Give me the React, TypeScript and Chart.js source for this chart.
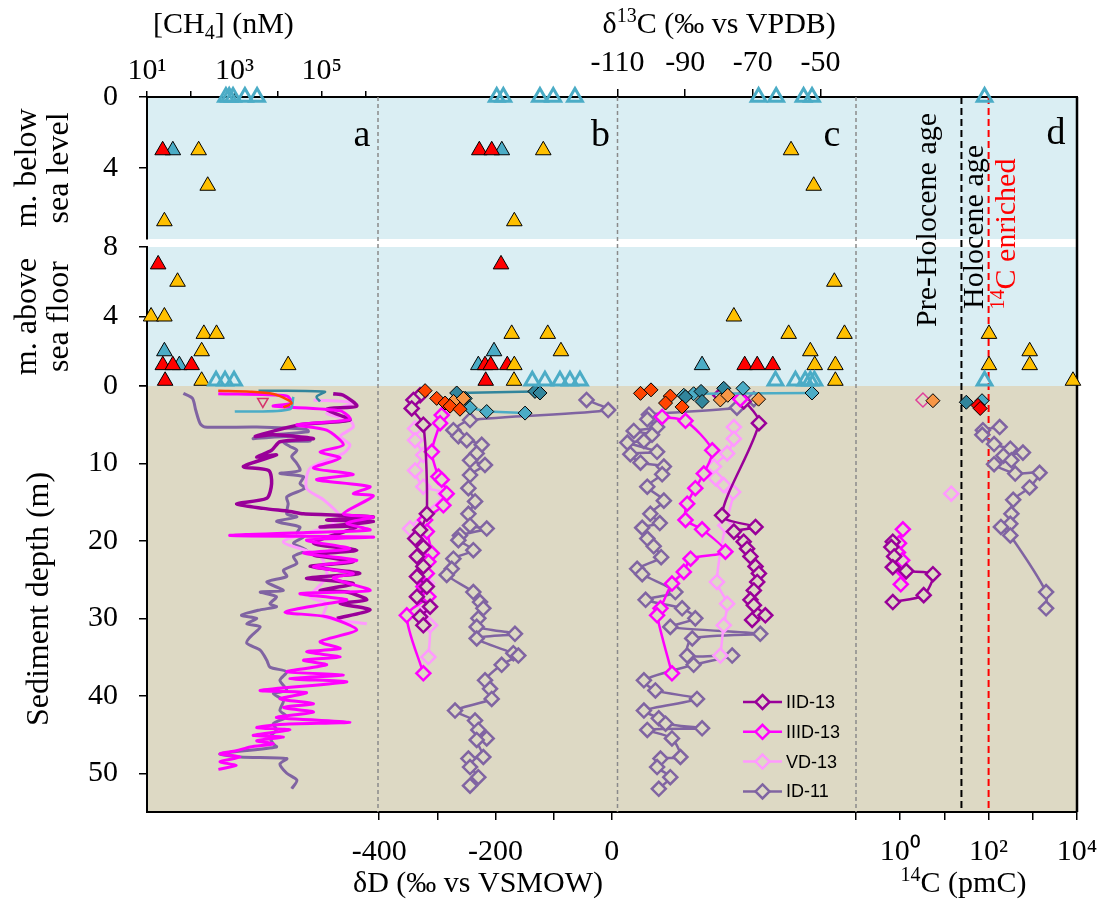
import React, { useEffect, useRef } from 'react';
import { Chart, registerables } from 'chart.js';

Chart.register(...registerables);

type Pair = [number, number];
const pts = (a: Pair[]) => a.map(([x, y]) => ({ x, y }));

// ---------------- colours ----------------
const COL_IID = '#990099';
const COL_IIID = '#FF00FF';
const COL_VD = '#FF99FF';
const COL_ID = '#8064A2';
const COL_RED = '#FF0000';
const COL_YELLOW = '#FFC000';
const COL_CYAN = '#4BACC6';
const COL_TEAL = '#31859C';
const COL_ORANGERED = '#FF4500';
const COL_ORANGE = '#F79646';
const COL_PINKRED = '#E0409A';
const BG_WATER = '#DAEEF3';
const BG_SED = '#DDD9C4';

// ---------------- axes ----------------
const CH4_MIN = 10, CH4_MAX = 1.93e6;
const DD_MIN = -402, DD_MAX = 10;
const D13C_MIN = -110, D13C_MAX = -39.5;
const C14_MIN = 0.1, C14_MAX = 1e4;
const BSL_MAX = 8, ASF_MAX = 8, SED_MAX = 55;

const CH4_TICKS = [10, 100, 1e3, 1e4, 1e5, 1e6];
const CH4_TICK_LABELS = ['10¹', '', '10³', '', '10⁵', ''];
const DD_TICKS = [-400, -300, -200, -100, 0];
const DD_TICK_LABELS = ['-400', '', '-200', '', '0'];
const D13C_TICKS = [-110, -90, -70, -50];
const D13C_TICK_LABELS = ['-110', '-90', '-70', '-50'];
const C14_TICKS = [0.1, 1, 10, 100, 1000, 10000];
const C14_TICK_LABELS = ['', '10⁰', '', '10²', '', '10⁴'];
const BSL_TICKS = [0, 4];
const BSL_TICK_LABELS = ['0', '4'];
const ASF_TICKS = [0, 4, 8];
const ASF_TICK_LABELS = ['0', '4', '8'];
const SED_TICKS = [0, 10, 20, 30, 40, 50];
const SED_TICK_LABELS = ['', '10', '20', '30', '40', '50'];

// reference lines in panel d (pmC)
const HOLOCENE_LIMIT = 24.3;
const ENRICHED_LIMIT = 100;

// ---------------- panel a : [CH4] (nM) ----------------
const aBslRed: Pair[] = [[22.8, 3]];
const aBslCyan: Pair[] = [[39, 3]];
const aBslYellow: Pair[] = [[152, 3], [245, 5], [25, 7]];
const aBslOpen: Pair[] = [[640, 0], [760, 0], [930, 0], [1740, 0], [3300, 0]];
const aAsfRed: Pair[] = [[18, 7], [23, 1.2], [39, 1.2], [105, 1.2], [26, 0.3]];
const aAsfYellow: Pair[] = [[50, 6], [12.4, 4], [25, 4], [200, 3], [390, 3], [178, 2], [17000, 1.2], [178, 0.3]];
const aAsfCyan: Pair[] = [[25, 2], [55, 1.2]];
const aAsfOpen: Pair[] = [[380, 0.3], [610, 0.3], [980, 0.3]];
const aSedOrangeRed: Pair[] = [[427, 0.6], [2290, 0.73], [7760, 1.03], [15800, 1.72], [20400, 2.24], [13200, 2.76]];
const aSedTeal: Pair[] = [[3550, 0.6], [117000, 0.73], [76000, 1.38], [91000, 2.0]];
const aSedCyan: Pair[] = [[1020, 3.3], [18600, 3.0], [22400, 1.4]];
const aSedPinkTri: Pair[] = [[4470, 2.0]];
const aIID: Pair[] = [[182000, 1.0], [310000, 1.2], [631000, 2.6], [129000, 3.0], [440000, 4.4], [31600, 5.0], [3000, 6.5], [7760, 6.3], [64600, 6.8], [11000, 7.2], [7100, 8.3], [3240, 9.2], [9200, 8.9], [1600, 10.4], [6100, 10.9], [7100, 12.6], [5500, 14.5], [1120, 15.2], [4600, 15.8], [18600, 16.2], [38000, 16.5], [1510000, 16.9], [129000, 17.3], [1510000, 17.5], [91200, 18.2], [631000, 18.2], [64600, 20.3], [631000, 21.2], [64600, 21.8], [525000, 22.7], [54000, 23.3], [741000, 24.2], [44700, 24.8], [525000, 25.5], [91200, 26.4], [372000, 26.6], [1070000, 27.6], [263000, 28.1], [1270000, 28.9], [220000, 30.0]];
const aIIID: Pair[] = [[427, 1.0], [15800, 1.3], [20400, 2.2], [7760, 2.6], [263000, 3.2], [440000, 4.3], [26900, 5.0], [129000, 5.7], [310000, 7.6], [91200, 8.5], [263000, 9.3], [64600, 10.6], [525000, 11.4], [76000, 12.1], [1270000, 13.0], [525000, 13.9], [1510000, 14.2], [310000, 16.5], [1510000, 16.9], [372000, 17.7], [1270000, 18.6], [44700, 18.9], [794, 19.3], [1510000, 19.5], [44700, 19.9], [440000, 21.0], [38000, 21.6], [631000, 22.5], [64600, 23.3], [525000, 24.2], [182000, 24.8], [1270000, 26.4], [31600, 26.8], [372000, 27.6], [129000, 28.1], [14300, 29.2], [129000, 29.8], [631000, 31.5], [91200, 33.0], [263000, 33.9], [44700, 34.3], [263000, 35.0], [38000, 35.4], [129000, 36.0], [15800, 36.9], [310000, 37.3], [18600, 37.8], [372000, 38.2], [3890, 39.3], [44700, 39.6], [11000, 40.4], [64600, 41.0], [13200, 41.5], [64600, 42.1], [9200, 42.8], [440000, 43.4], [11000, 43.7], [3240, 44.1], [18600, 44.4], [2690, 45.1], [13200, 45.3], [3240, 45.8], [7760, 46.2], [2300, 46.6], [1100, 47.1], [468, 47.5], [1350, 47.9], [468, 48.5], [1100, 49.0], [430, 49.5]];
const aVD: Pair[] = [[64600, 1.8], [525000, 2.2], [129000, 3.5], [440000, 4.4], [525000, 5.3], [263000, 6.5], [440000, 7.6], [310000, 8.7], [54000, 10.6], [44700, 13.2], [110000, 14.7], [263000, 16.9], [129000, 18.2], [13200, 20.1], [91200, 22.0], [129000, 24.6], [54000, 27.2], [129000, 28.1], [110000, 29.8], [1070000, 30.7]];
const aID: Pair[] = [[68, 0.95], [110, 1.6], [130, 3.1], [163, 4.8], [210, 5.3], [3240, 5.3], [44700, 5.6], [49000, 5.9], [7760, 6.3], [2690, 6.8], [22400, 6.5], [54000, 7.1], [13200, 7.2], [18600, 7.8], [26900, 8.3], [20500, 9.1], [26900, 10.0], [31600, 10.9], [11000, 11.3], [38000, 11.7], [31600, 12.6], [41000, 13.2], [15800, 14.3], [17000, 15.2], [15800, 16.5], [26900, 16.9], [9200, 17.5], [31600, 18.2], [26900, 19.0], [38000, 19.5], [22400, 20.3], [44700, 21.2], [22400, 22.0], [26900, 22.9], [13200, 23.8], [15800, 24.6], [5500, 25.3], [13200, 26.4], [3890, 26.6], [9200, 27.2], [6500, 28.1], [9200, 28.5], [3890, 28.9], [1450, 29.6], [3240, 30.0], [1910, 30.7], [3890, 31.1], [2300, 32.4], [1910, 33.2], [3890, 34.1], [5500, 35.4], [6500, 36.3], [15800, 36.9], [11000, 38.0], [15800, 39.3], [7760, 39.7], [13200, 40.6], [11000, 41.9], [15800, 42.7], [7760, 43.6], [9200, 44.4], [6500, 45.3], [7760, 46.2], [9200, 46.6], [468, 47.5], [1350, 47.9], [15800, 48.1], [11000, 48.8], [15800, 50.0], [26900, 50.9], [20500, 52.0]];

// ---------------- panel b : dD (permil vs VSMOW) ----------------
const bBslRed: Pair[] = [[-227.7, 3], [-206.4, 3]];
const bBslCyan: Pair[] = [[-189, 3]];
const bBslYellow: Pair[] = [[-117.7, 3], [-167.5, 7]];
const bBslOpen: Pair[] = [[-197.8, 0], [-186.4, 0], [-123.4, 0], [-100.5, 0], [-63.2, 0]];
const bAsfRed: Pair[] = [[-190.4, 7], [-217.9, 1.2], [-208, 1.2], [-179.6, 1.2], [-216.7, 0.3]];
const bAsfYellow: Pair[] = [[-172, 3], [-110, 3], [-87.3, 2], [-167.5, 1.2], [-168, 0.3]];
const bAsfCyan: Pair[] = [[-202.4, 2], [-229.4, 1.2]];
const bAsfOpen: Pair[] = [[-136.6, 0.3], [-114.8, 0.3], [-89, 0.3], [-71.8, 0.3], [-54.6, 0.3]];
const bSedOrangeRed: Pair[] = [[-321, 0.6], [-301, 1.6], [-286.6, 2.2], [-278, 2.6], [-261, 3.0]];
const bSedOrange: Pair[] = [[-272, 2.0], [-255, 1.6]];
const bSedTealLine: Pair[] = [[-266.6, 0.9], [-132, 0.7], [-123.4, 0.9]];
const bSedTeal: Pair[] = [[-252, 1.6]];
const bSedCyanLine: Pair[] = [[-243.7, 2.8], [-215, 3.3], [-149, 3.5]];
const bIID: Pair[] = [[-329.6, 1.2], [-341, 1.8], [-344, 2.9], [-324, 5.0], [-318, 16.5], [-329.6, 18.6], [-338, 19.7], [-324, 20.8], [-335, 22.0], [-324, 23.3], [-335, 24.6], [-318, 25.9], [-335, 27.2], [-312.4, 28.5], [-329.6, 29.8], [-324, 30.9]];
const bIIID: Pair[] = [[-292.4, 3.75], [-295.2, 4.8], [-309.5, 8.5], [-298, 11.7], [-292.4, 12.1], [-283.8, 13.9], [-289.5, 15.4], [-321, 17.3], [-318, 18.8], [-309.5, 21.6], [-315.3, 22.7], [-318, 24.2], [-324, 25.9], [-315.3, 27.2], [-352.5, 29.6], [-324, 37.1]];
const bVD: Pair[] = [[-338.2, 5.5], [-338.2, 7.0], [-324, 8.9], [-338.2, 10.9], [-324, 13.0], [-286.6, 13.9], [-346.8, 18.4], [-329.6, 20.3], [-318, 25.5], [-324, 28.1], [-312.4, 30.9], [-315.3, 35.0]];
const bID: Pair[] = [[-43.2, 1.8], [-6, 3.1], [-243.7, 4.4], [-272.3, 5.7], [-263.7, 6.5], [-249.4, 7.0], [-223.6, 7.6], [-232.2, 8.7], [-243.7, 9.6], [-218, 10.2], [-243.7, 11.5], [-246.5, 13.2], [-235, 14.9], [-246.5, 16.5], [-243.7, 18.0], [-215, 18.4], [-261, 19.3], [-263.7, 19.9], [-238, 21.2], [-272.3, 22.3], [-275.2, 23.6], [-283.8, 24.4], [-238, 26.6], [-226.5, 27.9], [-220.8, 28.7], [-229.4, 30.0], [-232.2, 31.1], [-166.4, 32.0], [-232.2, 32.6], [-169.2, 34.5], [-160.6, 34.8], [-189.3, 36.0], [-217.9, 38.0], [-209.3, 39.1], [-206.4, 40.4], [-269.5, 41.9], [-235.1, 43.2], [-229.4, 44.4], [-215, 45.5], [-232.2, 45.7], [-220.8, 47.9], [-246.5, 48.1], [-243.7, 49.2], [-229.4, 50.5], [-243.7, 51.6]];

// ---------------- panel c : d13C (permil vs VPDB) ----------------
const cBslYellow: Pair[] = [[-58.7, 3], [-52, 5]];
const cBslOpen: Pair[] = [[-68.3, 0], [-63.1, 0], [-55, 0], [-52.5, 0]];
const cAsfYellow: Pair[] = [[-45.9, 6], [-75.6, 4], [-59.4, 3], [-42.9, 3], [-53, 2], [-51.7, 1.2], [-45.6, 1.2], [-45.6, 0.3]];
const cAsfCyan: Pair[] = [[-85, 1.2]];
const cAsfRed: Pair[] = [[-72.4, 1.2], [-68.7, 1.2], [-64.1, 1.2]];
const cAsfOpen: Pair[] = [[-63.3, 0.3], [-57.4, 0.3], [-54.5, 0.3], [-53, 0.3], [-51.8, 0.3]];
const cSedOrangeRed: Pair[] = [[-103.2, 0.95], [-100.1, 0.5], [-94.4, 1.3], [-95.8, 2.2], [-90.9, 2.7]];
const cSedTeal: Pair[] = [[-89.9, 1.4], [-85.3, 0.7], [-85.0, 2.0], [-78.6, 0.3]];
const cSedCyanLine: Pair[] = [[-87.5, 1.0], [-52.5, 0.9]];
const cSedCyan: Pair[] = [[-90.4, 1.2], [-72.9, 0.3]];
const cSedOrange: Pair[] = [[-79.6, 1.8], [-77.4, 1.2], [-68.3, 1.7]];
const cIIDTop: Pair[] = [[-73.7, 1.7]];
const cIID: Pair[] = [[-79.6, 1.2], [-72.7, 2.0], [-68.2, 4.8], [-79.1, 16.7], [-69.2, 18.2], [-75.6, 18.8], [-72.7, 20.1], [-71.7, 21.0], [-70.7, 22.0], [-69.2, 23.3], [-68.2, 24.2], [-68.7, 25.3], [-69.7, 26.4], [-70.7, 27.6], [-69.7, 28.3], [-66.3, 29.6], [-70.2, 30.2]];
const cIIID: Pair[] = [[-96.8, 4.0], [-89.9, 4.5], [-82.0, 8.3], [-84.5, 11.3], [-87.0, 13.2], [-89.4, 15.2], [-89.9, 17.3], [-85.0, 18.5], [-78.1, 21.4], [-88.4, 22.3], [-90.4, 24.0], [-93.9, 25.5], [-97.3, 28.7], [-98.3, 29.6], [-93.9, 37.1]];
const cVD: Pair[] = [[-75.6, 5.3], [-75.6, 6.8], [-77.6, 8.7], [-81.5, 10.4], [-81.0, 11.9], [-78.6, 12.8], [-75.8, 13.7], [-78.1, 18.0], [-80.6, 25.3], [-77.6, 28.1], [-78.6, 30.9], [-79.6, 34.8]];
const cID: Pair[] = [[-69.7, 1.7], [-74.7, 2.8], [-100.7, 3.7], [-101.2, 4.3], [-98.3, 5.3], [-105.2, 5.8], [-99.8, 6.3], [-102.2, 7.1], [-107.1, 7.3], [-98.3, 8.5], [-106.2, 8.8], [-103.2, 9.9], [-96.3, 10.4], [-96.8, 11.4], [-101.2, 13.0], [-96.3, 14.8], [-100.3, 16.5], [-97.5, 17.7], [-102.7, 18.3], [-101.2, 19.7], [-99.3, 20.7], [-97.1, 22.1], [-104.2, 23.6], [-102.7, 24.3], [-92.9, 26.6], [-101.7, 27.6], [-90.9, 28.7], [-87.0, 30.0], [-94.4, 31.1], [-67.8, 32.0], [-87.9, 32.6], [-89.4, 34.8], [-76.1, 34.8], [-87.5, 36.0], [-102.2, 38.0], [-98.8, 39.3], [-86.5, 40.4], [-102.2, 41.9], [-97.8, 42.9], [-95.8, 43.6], [-85.0, 44.2], [-101.2, 44.4], [-93.9, 45.5], [-91.4, 47.9], [-97.3, 48.1], [-98.3, 49.2], [-94.4, 50.5], [-97.8, 52.0]];

// ---------------- panel d : 14C (pmC) ----------------
const dBslOpen: Pair[] = [[81, 0]];
const dAsfYellow: Pair[] = [[102, 3], [102, 1.2], [850, 2], [850, 1.2], [8100, 0.3]];
const dAsfOpen: Pair[] = [[81, 0.3]];
const dSedPink: Pair[] = [[3.27, 1.8]];
const dSedOrange: Pair[] = [[5.5, 1.9]];
const dSedTeal: Pair[] = [[31.3, 2.1]];
const dSedRed: Pair[] = [[57.5, 2.5], [64.6, 2.9]];
const dSedCyan: Pair[] = [[71, 1.9]];
const dIID: Pair[] = [[0.68, 20.1], [0.63, 20.8], [0.73, 22.0], [0.68, 23.4], [1.37, 23.9], [5.5, 24.3], [3.4, 27.0], [0.68, 27.9]];
const dIIID: Pair[] = [[1.15, 18.5], [0.94, 20.3], [0.89, 21.5], [1.11, 22.5], [1.25, 24.1], [1.03, 25.6]];
const dVD: Pair[] = [[14.3, 13.9]];
const dID: Pair[] = [[178, 5.3], [74.3, 5.7], [72, 6.3], [133, 7.5], [310, 8.1], [598, 8.6], [216, 9.0], [328, 9.6], [133, 10.1], [400, 11.3], [1423, 11.2], [846, 13.1], [360, 14.7], [328, 16.5], [310, 17.8], [190, 18.2], [310, 19.3], [2000, 26.6], [2000, 28.7]];

const LEGEND_ITEMS = [
  { label: 'IID-13', color: COL_IID },
  { label: 'IIID-13', color: COL_IIID },
  { label: 'VD-13', color: COL_VD },
  { label: 'ID-11', color: COL_ID },
];

// ---------------- layout ----------------
const W = 1099, H = 902;
const PANEL_W = [231, 239.5, 238.5, 221];
const SECTION_H = [142, 8, 139, 426];
const TOP_H = 97, BOTTOM_H = 90, LEFT_W = 147, RIGHT_PAD = 22;
const SERIF = '"Liberation Serif", "Times New Roman", serif';
const SANS = '"Liberation Sans", Arial, sans-serif';

// ---------------- dataset builders ----------------
function triangles(data: Pair[], x: string, y: string, fill: string) {
  return { data: pts(data), xAxisID: x, yAxisID: y, showLine: false, clip: false, pointStyle: 'triangle', pointRadius: 9, pointHoverRadius: 9, pointBackgroundColor: fill, pointBorderColor: '#000', pointBorderWidth: 1 };
}
function openTriangles(data: Pair[], x: string, y: string) {
  return { data: pts(data), xAxisID: x, yAxisID: y, showLine: false, clip: false, pointStyle: 'triangle', pointRadius: 8.5, pointHoverRadius: 8.5, pointBackgroundColor: 'rgba(0,0,0,0)', pointBorderColor: COL_CYAN, pointBorderWidth: 3 };
}
function diamonds(data: Pair[], x: string, y: string, fill: string, line?: string) {
  return { data: pts(data), xAxisID: x, yAxisID: y, showLine: !!line, borderColor: line || fill, borderWidth: 2.5, clip: false, pointStyle: 'rectRot', pointRadius: 7, pointHoverRadius: 7, pointBackgroundColor: fill, pointBorderColor: '#000', pointBorderWidth: 1 };
}
function profile(data: Pair[], x: string, y: string, color: string, markers: boolean, width = 2.5) {
  return { data: pts(data), xAxisID: x, yAxisID: y, showLine: true, borderColor: color, borderWidth: width, tension: 0.25, clip: false, pointStyle: 'rectRot', pointRadius: markers ? 7 : 0, pointHoverRadius: markers ? 7 : 0, pointBackgroundColor: BG_SED, pointBorderColor: color, pointBorderWidth: 2.5 };
}
function plainLine(data: Pair[], x: string, y: string, color: string) {
  return { data: pts(data), xAxisID: x, yAxisID: y, showLine: true, borderColor: color, borderWidth: 2.5, tension: 0.3, clip: false, pointRadius: 0, pointHoverRadius: 0 };
}

// ---------------- axis helpers ----------------
const fixedTicks = (values: number[]) => (scale: any) => { scale.ticks = values.map((v) => ({ value: v })); };
const labelsFrom = (labels: string[]) => (_v: any, i: number) => labels[i] ?? '';
const fixH = (h: number) => (s: any) => { s.height = h; s.paddingLeft = 0; s.paddingRight = 0; };
const fixW = (w: number) => (s: any) => { s.width = w; s.paddingTop = 0; s.paddingBottom = 0; };
const tickFont = { family: SERIF, size: 30 };
const border = { display: true, color: '#000', width: 2 };
const marks = (len: number) => ({ display: true, drawOnChartArea: false, drawTicks: true, tickLength: len, color: '#000', lineWidth: 1.5 });

function xAxis(type: string, position: string, stack: string, idx: number, weight: number, min: number, max: number, tickVals?: number[], tickLabels?: string[], tl = 8, pad = 10) {
  const shown = !!tickVals;
  return {
    type, axis: 'x', position, stack, stackWeight: PANEL_W[idx], weight, min, max,
    afterBuildTicks: fixedTicks(tickVals || []),
    ticks: { display: shown, callback: labelsFrom(tickLabels || []), font: tickFont, color: '#000', padding: pad, autoSkip: false, maxRotation: 0, minRotation: 0 },
    grid: shown ? marks(tl) : { display: false },
    border,
    afterFit: fixH(position === 'top' ? TOP_H : BOTTOM_H),
  };
}
function yAxis(idx: number, weight: number, min: number, max: number, reverse: boolean, tickVals: number[] | null, tickLabels: string[], title?: any) {
  const shown = !!tickVals;
  return {
    type: 'linear', axis: 'y', position: 'left', stack: 'left', stackWeight: SECTION_H[idx], weight, min, max, reverse,
    afterBuildTicks: fixedTicks(tickVals || []),
    ticks: { display: shown, callback: labelsFrom(tickLabels), font: tickFont, color: '#000', padding: 21, autoSkip: false },
    grid: shown ? marks(8) : { display: false },
    border: shown ? border : { display: false },
    title: title || { display: false },
    afterFit: fixW(LEFT_W),
  };
}

// ---------------- rich text ----------------
function drawRich(ctx: CanvasRenderingContext2D, parts: [string, number][], x: number, y: number, align: string, size: number) {
  const f = (m: number) => `${m ? Math.round(size * 0.65) : size}px ${SERIF}`;
  let total = 0;
  for (const [t, m] of parts) { ctx.font = f(m); total += ctx.measureText(t).width; }
  let cx = align === 'center' ? x - total / 2 : x;
  ctx.textAlign = 'left';
  ctx.textBaseline = 'alphabetic';
  for (const [t, m] of parts) {
    ctx.font = f(m);
    const dy = m === 1 ? -size * 0.36 : m === -1 ? size * 0.2 : 0;
    ctx.fillText(t, cx, y + dy);
    cx += ctx.measureText(t).width;
  }
}

const decorPlugin = {
  id: 'decor',
  beforeDraw(chart: any) {
    const { ctx, chartArea: ca, scales: s } = chart;
    ctx.save();
    ctx.fillStyle = BG_WATER;
    ctx.fillRect(ca.left, s.yBsl.top, ca.right - ca.left, s.yBsl.bottom - s.yBsl.top);
    ctx.fillRect(ca.left, s.yAsf.top, ca.right - ca.left, s.yAsf.bottom - s.yAsf.top);
    ctx.fillStyle = BG_SED;
    ctx.fillRect(ca.left, s.ySed.top, ca.right - ca.left, s.ySed.bottom - s.ySed.top);
    ctx.restore();
  },
  beforeDatasetsDraw(chart: any) {
    const { ctx, chartArea: ca, scales: s } = chart;
    ctx.save();
    const vline = (x: number, color: string, w: number, dash: number[]) => {
      ctx.beginPath();
      ctx.setLineDash(dash);
      ctx.strokeStyle = color;
      ctx.lineWidth = w;
      ctx.moveTo(x, ca.top);
      ctx.lineTo(x, ca.bottom);
      ctx.stroke();
    };
    for (const id of ['xa', 'xb', 'xc']) vline(s[id].right, '#8A8A8A', 1.5, [4, 3]);
    vline(s.xd.getPixelForValue(HOLOCENE_LIMIT), '#000', 2, [7, 4]);
    vline(s.xd.getPixelForValue(ENRICHED_LIMIT), '#FF0000', 2, [7, 4]);
    vline(ca.right, '#000', 2.5, []);
    ctx.restore();
  },
  afterDraw(chart: any) {
    const { ctx, chartArea: ca, scales: s } = chart;
    ctx.save();
    ctx.fillStyle = '#000';
    // axis titles
    drawRich(ctx, [['[CH', 0], ['4', -1], ['] (nM)', 0]], s.xa.left + 6, 33, 'left', 30);
    drawRich(ctx, [['δ', 0], ['13', 1], ['C (‰ vs VPDB)', 0]], s.xc.left - 15, 33, 'left', 30);
    drawRich(ctx, [['δD (‰ vs VSMOW)', 0]], s.xb.left - 25, 892, 'left', 30);
    drawRich(ctx, [['14', 1], ['C (pmC)', 0]], (s.xd.left + s.xd.right) / 2 - 3, 892, 'center', 30);
    // panel letters
    ctx.font = `38px ${SERIF}`;
    ctx.textAlign = 'center';
    ctx.textBaseline = 'alphabetic';
    ctx.fillText('a', s.xa.right - 16, ca.top + 49);
    ctx.fillText('b', s.xb.right - 17, ca.top + 49);
    ctx.fillText('c', s.xc.right - 24, ca.top + 49);
    ctx.fillText('d', s.xd.right - 21, ca.top + 47);
    // rotated annotations in panel d
    const rot = (x: number, y: number, parts: [string, number][], color: string) => {
      ctx.save();
      ctx.translate(x, y);
      ctx.rotate(-Math.PI / 2);
      ctx.fillStyle = color;
      drawRich(ctx, parts, 0, 10, 'center', 30);
      ctx.restore();
    };
    const pH = s.xd.getPixelForValue(HOLOCENE_LIMIT);
    const pE = s.xd.getPixelForValue(ENRICHED_LIMIT);
    rot(pH - 35, ca.top + 123, [['Pre-Holocene age', 0]], '#000');
    rot(pH + 12, ca.top + 130, [['Holocene age', 0]], '#000');
    rot(pE + 16, ca.top + 137, [['14', 1], ['C enriched', 0]], '#FF0000');
    // legend
    const lx0 = s.xc.right - 113, lx1 = s.xc.right - 74, ly0 = ca.bottom - 110;
    LEGEND_ITEMS.forEach((it, i) => {
      const y = ly0 + i * 29.8;
      ctx.setLineDash([]);
      ctx.strokeStyle = it.color;
      ctx.lineWidth = 2.5;
      ctx.beginPath();
      ctx.moveTo(lx0, y);
      ctx.lineTo(lx1, y);
      ctx.stroke();
      const mx = (lx0 + lx1) / 2, r = 7;
      ctx.beginPath();
      ctx.moveTo(mx, y - r);
      ctx.lineTo(mx + r, y);
      ctx.lineTo(mx, y + r);
      ctx.lineTo(mx - r, y);
      ctx.closePath();
      ctx.fillStyle = BG_SED;
      ctx.fill();
      ctx.stroke();
      ctx.fillStyle = '#000';
      ctx.font = `18px ${SANS}`;
      ctx.textAlign = 'left';
      ctx.textBaseline = 'middle';
      ctx.fillText(it.label, lx1 + 4, y + 1);
    });
    ctx.restore();
  },
};

export default function App() {
  const ref = useRef<HTMLCanvasElement | null>(null);
  useEffect(() => {
    if (!ref.current) return;
    const datasets: any[] = [
      // water column triangles
      openTriangles(aBslOpen, 'xa', 'yBsl'), openTriangles(aAsfOpen, 'xa', 'yAsf'),
      openTriangles(bBslOpen, 'xb', 'yBsl'), openTriangles(bAsfOpen, 'xb', 'yAsf'),
      openTriangles(cBslOpen, 'xc', 'yBsl'), openTriangles(cAsfOpen, 'xc', 'yAsf'),
      openTriangles(dBslOpen, 'xd', 'yBsl'), openTriangles(dAsfOpen, 'xd', 'yAsf'),
      triangles(aBslRed, 'xa', 'yBsl', COL_RED), triangles(aBslCyan, 'xa', 'yBsl', COL_CYAN), triangles(aBslYellow, 'xa', 'yBsl', COL_YELLOW),
      triangles(aAsfRed, 'xa', 'yAsf', COL_RED), triangles(aAsfCyan, 'xa', 'yAsf', COL_CYAN), triangles(aAsfYellow, 'xa', 'yAsf', COL_YELLOW),
      triangles(bBslRed, 'xb', 'yBsl', COL_RED), triangles(bBslCyan, 'xb', 'yBsl', COL_CYAN), triangles(bBslYellow, 'xb', 'yBsl', COL_YELLOW),
      triangles(bAsfYellow, 'xb', 'yAsf', COL_YELLOW), triangles(bAsfRed, 'xb', 'yAsf', COL_RED), triangles(bAsfCyan, 'xb', 'yAsf', COL_CYAN),
      triangles(cBslYellow, 'xc', 'yBsl', COL_YELLOW),
      triangles(cAsfYellow, 'xc', 'yAsf', COL_YELLOW), triangles(cAsfRed, 'xc', 'yAsf', COL_RED), triangles(cAsfCyan, 'xc', 'yAsf', COL_CYAN),
      triangles(dAsfYellow, 'xd', 'yAsf', COL_YELLOW),
      // sediment-water interface
      diamonds(bSedOrangeRed, 'xb', 'ySed', COL_ORANGERED), diamonds(bSedOrange, 'xb', 'ySed', COL_ORANGE),
      diamonds(bSedTeal, 'xb', 'ySed', COL_TEAL), diamonds(bSedTealLine, 'xb', 'ySed', COL_TEAL, COL_TEAL),
      diamonds(bSedCyanLine, 'xb', 'ySed', COL_CYAN, COL_CYAN),
      diamonds(cSedOrangeRed, 'xc', 'ySed', COL_ORANGERED), diamonds(cSedOrange, 'xc', 'ySed', COL_ORANGE),
      diamonds(cSedTeal, 'xc', 'ySed', COL_TEAL), diamonds(cSedCyan, 'xc', 'ySed', COL_CYAN),
      diamonds(cSedCyanLine, 'xc', 'ySed', COL_CYAN, COL_CYAN),
      diamonds(dSedOrange, 'xd', 'ySed', COL_ORANGE), diamonds(dSedRed, 'xd', 'ySed', COL_RED),
      diamonds(dSedTeal, 'xd', 'ySed', COL_TEAL), diamonds(dSedCyan, 'xd', 'ySed', COL_CYAN),
      { ...profile(dSedPink, 'xd', 'ySed', COL_PINKRED, true), showLine: false, pointBorderWidth: 1.5 },
      { data: pts(aSedPinkTri), xAxisID: 'xa', yAxisID: 'ySed', showLine: false, clip: false, pointStyle: 'triangle', rotation: 180, pointRadius: 6, pointBackgroundColor: 'rgba(0,0,0,0)', pointBorderColor: '#D6336C', pointBorderWidth: 1.5 },
      plainLine(aSedOrangeRed, 'xa', 'ySed', COL_ORANGERED),
      plainLine(aSedTeal, 'xa', 'ySed', COL_TEAL),
      plainLine(aSedCyan, 'xa', 'ySed', COL_CYAN),
      // sediment profiles
      profile(bIID, 'xb', 'ySed', COL_IID, true), profile(bIIID, 'xb', 'ySed', COL_IIID, true), profile(bVD, 'xb', 'ySed', COL_VD, true), profile(bID, 'xb', 'ySed', COL_ID, true),
      profile(cIIDTop, 'xc', 'ySed', COL_IIID, true),
      profile(cIID, 'xc', 'ySed', COL_IID, true), profile(cIIID, 'xc', 'ySed', COL_IIID, true), profile(cVD, 'xc', 'ySed', COL_VD, true), profile(cID, 'xc', 'ySed', COL_ID, true),
      profile(dIID, 'xd', 'ySed', COL_IID, true), profile(dIIID, 'xd', 'ySed', COL_IIID, true), profile(dVD, 'xd', 'ySed', COL_VD, true), profile(dID, 'xd', 'ySed', COL_ID, true),
      profile(aIIID, 'xa', 'ySed', COL_IIID, false, 3), profile(aIID, 'xa', 'ySed', COL_IID, false, 3.5),
      profile(aVD, 'xa', 'ySed', COL_VD, false, 3), profile(aID, 'xa', 'ySed', COL_ID, false, 3),
    ];

    const titleFont = { family: SERIF, size: 32, lineHeight: 1 };
    const chart = new Chart(ref.current, {
      type: 'scatter',
      data: { datasets },
      options: {
        animation: false,
        responsive: false,
        devicePixelRatio: 1,
        events: [],
        layout: { padding: { left: 0, top: 0, right: RIGHT_PAD, bottom: 0 } },
        plugins: { legend: { display: false }, tooltip: { enabled: false } },
        scales: {
          // bottom row: ascending weight = left to right
          xaBottom: xAxis('logarithmic', 'bottom', 'bottom', 0, 1, CH4_MIN, CH4_MAX),
          xb: xAxis('linear', 'bottom', 'bottom', 1, 2, DD_MIN, DD_MAX, DD_TICKS, DD_TICK_LABELS, 8, 14),
          xcBottom: xAxis('linear', 'bottom', 'bottom', 2, 3, D13C_MIN, D13C_MAX),
          xd: xAxis('logarithmic', 'bottom', 'bottom', 3, 4, C14_MIN, C14_MAX, C14_TICKS, C14_TICK_LABELS, 8, 14),
          // top row: descending weight = left to right
          xa: xAxis('logarithmic', 'top', 'top', 0, 4, CH4_MIN, CH4_MAX, CH4_TICKS, CH4_TICK_LABELS, 6, 2),
          xbTop: xAxis('linear', 'top', 'top', 1, 3, DD_MIN, DD_MAX),
          xc: xAxis('linear', 'top', 'top', 2, 2, D13C_MIN, D13C_MAX, D13C_TICKS, D13C_TICK_LABELS, 8, 8),
          xdTop: xAxis('logarithmic', 'top', 'top', 3, 1, C14_MIN, C14_MAX),
          // left column: descending weight = top to bottom
          yBsl: yAxis(0, 4, 0, BSL_MAX, true, BSL_TICKS, BSL_TICK_LABELS, { display: true, text: ['m. below', 'sea level'], font: titleFont, color: '#000', padding: 12 }),
          yGap: yAxis(1, 3, 0, 1, false, null, []),
          yAsf: yAxis(2, 2, 0, ASF_MAX, false, ASF_TICKS, ASF_TICK_LABELS, { display: true, text: ['m. above', 'sea floor'], font: titleFont, color: '#000', padding: 12 }),
          ySed: yAxis(3, 1, 0, SED_MAX, true, SED_TICKS, SED_TICK_LABELS, { display: true, text: 'Sediment depth (m)', font: titleFont, color: '#000', padding: 24 }),
        } as any,
      } as any,
      plugins: [decorPlugin as any],
    });
    return () => chart.destroy();
  }, []);

  return (
    <div style={{ position: 'absolute', left: 0, top: 0, width: W, height: H, background: '#fff' }}>
      <canvas ref={ref} width={W} height={H} style={{ display: 'block' }} />
    </div>
  );
}
